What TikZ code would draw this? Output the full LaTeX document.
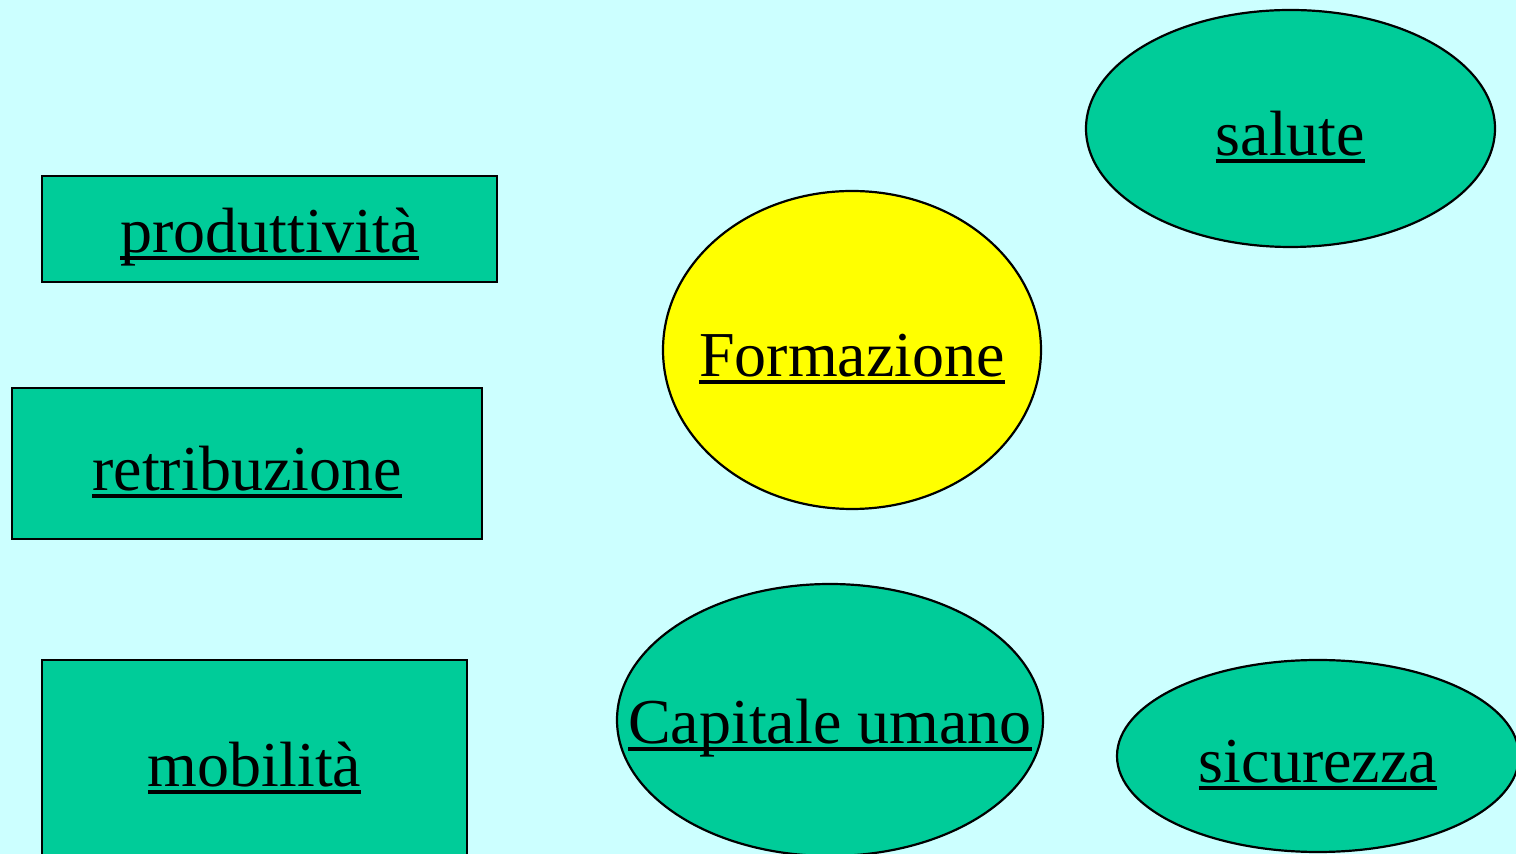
\documentclass[tikz,border=0pt]{standalone}
\usepackage{fontspec}
\setmainfont{Liberation Serif}
\usetikzlibrary{shapes.geometric}
\definecolor{pagecyan}{HTML}{CCFFFF}
\definecolor{topicgreen}{HTML}{00CC99}
\definecolor{hubyellow}{HTML}{FFFF00}
% underlined link text, rule at a fixed depth
\newcommand{\ulink}[1]{\setbox0\hbox{#1}\vrule width 0pt height 30.5pt depth 3.6pt\rlap{\vrule width\wd0 height -1.8pt depth 3.6pt}\box0}
\tikzset{topic/.style={
    draw=black,
    line width=1.1pt,
    fill=topicgreen,
    inner sep=0pt,
    font=\fontsize{32}{38}\selectfont
}}
\tikzset{topicbox/.style={topic, rectangle}}
\tikzset{topicoval/.style={topic, ellipse}}

\begin{document}
\begin{tikzpicture}[x=0.5pt,y=-0.5pt]
            \fill[pagecyan] (0,0) rectangle (1516,854);
            \useasboundingbox (0,0) rectangle (1516,854);

            % left column
            \node[topicbox, minimum width=227.5pt, minimum height=53pt] (prod) at (269.5,229) {\ulink{produttività}};
            \node[topicbox, minimum width=235pt, minimum height=75.5pt] (retr) at (247,463.5) {\ulink{retribuzione}};
            \node[topicbox, minimum width=212.5pt, minimum height=100pt] (mob) at (254.5,760) {\ulink{mobilità}};

            % ovals
            \node[topicoval, fill=hubyellow, minimum width=189pt, minimum height=159pt] (form) at (852,350) {\makebox[0pt]{\ulink{Formazione}}};
            \node[topicoval, minimum width=204.5pt, minimum height=118.5pt] (sal) at (1290.5,128.5) {\makebox[0pt]{\ulink{salute}}};
            \node[topicoval, minimum width=213pt, minimum height=136pt] (cap) at (830,720) {\makebox[0pt]{\ulink{Capitale umano}}};
            \node[topicoval, minimum width=201pt, minimum height=96pt] (sic) at (1318,756) {\makebox[0pt]{\ulink{sicurezza}}};
        \end{tikzpicture}
\end{document}
